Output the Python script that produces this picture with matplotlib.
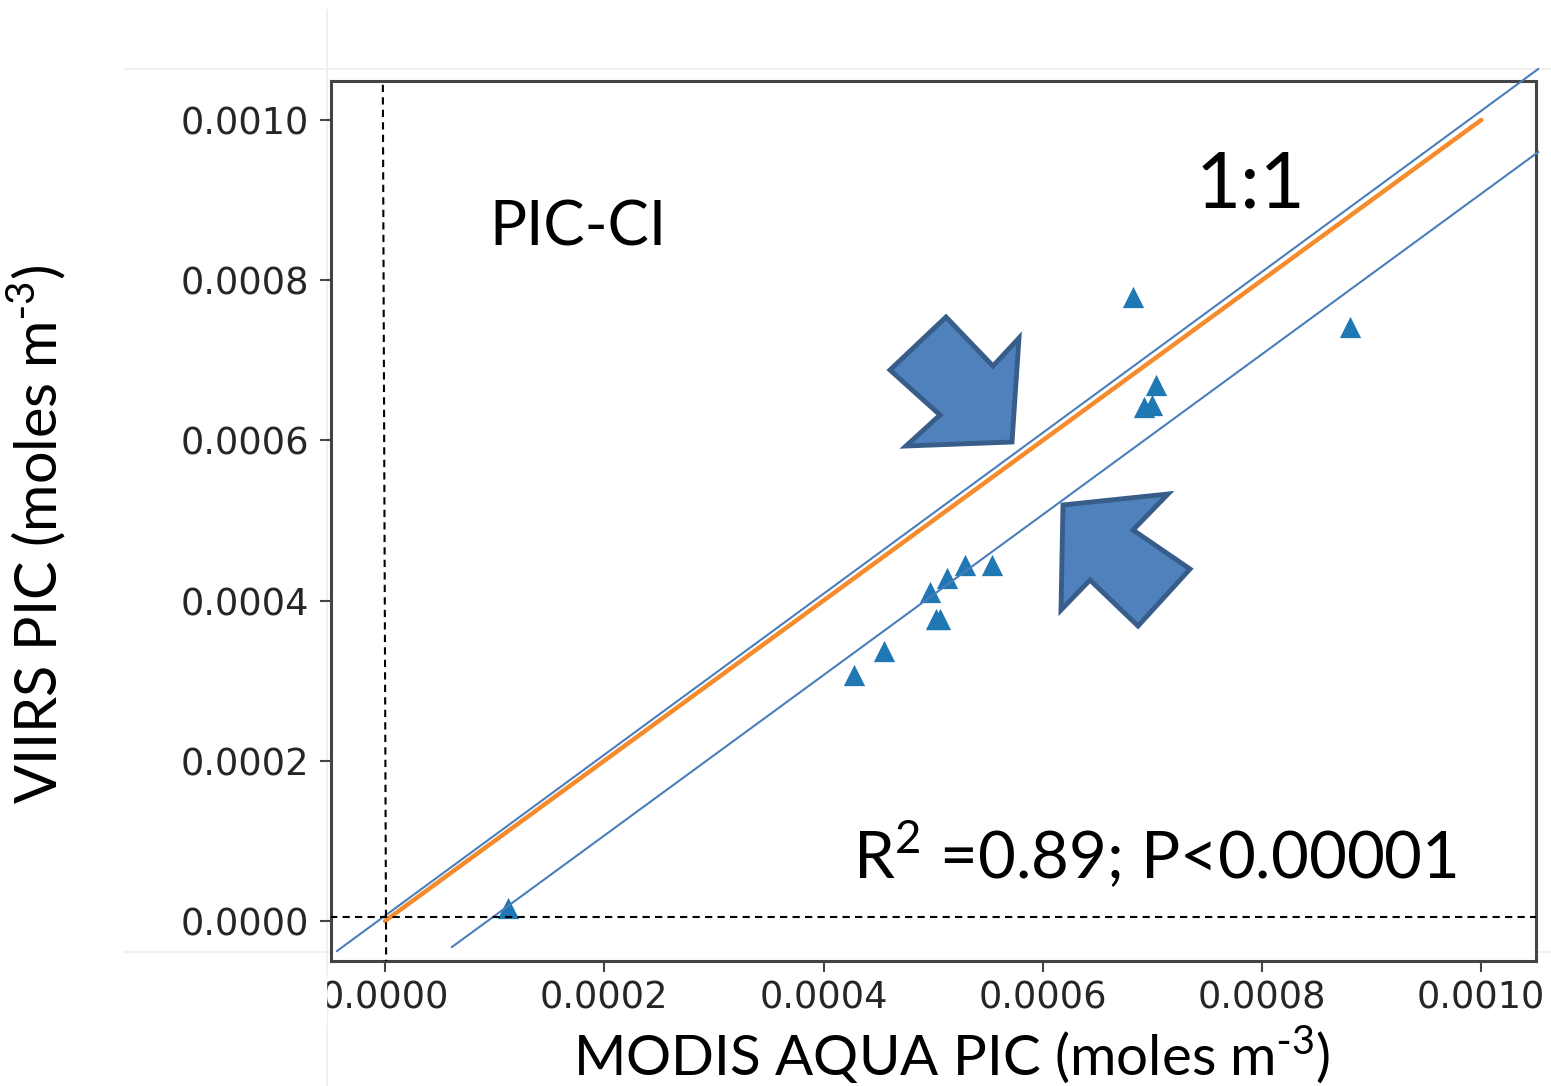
import matplotlib
matplotlib.use('Agg')
import matplotlib.pyplot as plt
from matplotlib.patches import Polygon, Rectangle

W, H = 1551, 1086

# points
modis_pic = [0.000682, 0.000880, 0.000703, 0.000692, 0.000700, 0.000554, 0.000529,
             0.000513, 0.000497, 0.000503, 0.000506, 0.000455, 0.000428, 0.000112]
viirs_pic = [0.000779, 0.000742, 0.000669, 0.000642, 0.000644, 0.000444, 0.000444,
             0.000428, 0.000411, 0.000377, 0.000377, 0.000337, 0.000307, 0.000016]

one_to_one = [0.0, 0.001]
upper_x = [-0.0000438, 0.001052]
upper_y = [-0.0000375, 0.0010637]
lower_x = [0.0000611, 0.001052]
lower_y = [-0.0000325, 0.000960]
dash_v_x = [-0.000002, 0.000001]
dash_v_y = [0.001044, -0.00005]
dash_h_x = [-0.00005, 0.00105]
dash_h_y = [0.000005, 0.000005]
ticks = [0.0, 0.0002, 0.0004, 0.0006, 0.0008, 0.0010]
tick_labels = ['0.0000', '0.0002', '0.0004', '0.0006', '0.0008', '0.0010']

# the two block arrows, in pixels of the picture
arrow_1 = [(946, 317), (993, 366), (1019, 338), (1012, 442), (906, 446), (940, 415), (890, 370)]
arrow_2 = [(1063, 505), (1168, 494), (1133, 530), (1190, 569), (1138, 626), (1090, 580), (1061, 610)]


def fx(x):
    return x / W


def fy(y):
    return 1 - y / H


fig = plt.figure(figsize=(W / 100, H / 100), dpi=100)
ax = fig.add_axes([fx(331), fy(961), (1536 - 331) / W, (961 - 81) / H])

ax.plot(one_to_one, one_to_one, color='#f58b2c', lw=3.2, solid_capstyle='round', zorder=2)
ax.scatter(modis_pic, viirs_pic, marker='^', s=235, color='tab:blue', linewidths=0, zorder=3)
ax.plot(upper_x, upper_y, color='#4a7ebb', lw=1.5, clip_on=False, zorder=4)
ax.plot(lower_x, lower_y, color='#4a7ebb', lw=1.5, clip_on=False, zorder=4)
ax.plot(dash_v_x, dash_v_y, color='black', lw=1.5, ls=(0, (3.5, 2.5)), zorder=5)
ax.plot(dash_h_x, dash_h_y, color='black', lw=1.5, ls=(0, (3.5, 2.5)), zorder=5)

ax.set_xlim(-0.0000493, 0.00105)
ax.set_ylim(-0.00005, 0.0010487)
ax.set_xticks(ticks)
ax.set_xticklabels(tick_labels)
ax.set_yticks(ticks)
ax.set_yticklabels(tick_labels)
ax.tick_params(labelsize=26.5, labelcolor='#262626', color='#444444', length=8, width=1.5)
ax.tick_params(axis='x', pad=5)
ax.tick_params(axis='y', pad=7.5)
for s in ax.spines.values():
    s.set_color('#444444')
    s.set_linewidth(2.2)

# faint lines left from the slide
for y in (69, 952):
    fig.add_artist(plt.Line2D([fx(125), 1], [fy(y), fy(y)], color='#eeeeee', lw=1.2, zorder=-1))
fig.add_artist(plt.Line2D([fx(327), fx(327)], [fy(10), 0], color='#eeeeee', lw=1.2, zorder=-1))

# tick labels are cut at both ends of the x axis
fig.add_artist(Rectangle((fx(200), fy(1025)), fx(126), 50 / H, transform=fig.transFigure,
                         color='white', zorder=5))
fig.add_artist(Rectangle((fx(1546), fy(1025)), fx(5), 50 / H, transform=fig.transFigure,
                         color='white', zorder=5))

for arrow in (arrow_1, arrow_2):
    pts = [(fx(x), fy(y)) for x, y in arrow]
    fig.add_artist(Polygon(pts, closed=True, transform=fig.transFigure, facecolor='#4f81bd',
                           edgecolor='#385d8a', lw=3.5, joinstyle='miter', zorder=6))

font = ['Lato', 'DejaVu Sans']
sup = r'$^{\mathregular{\text{-}3}}$'
fig.text(fx(489), fy(245), 'PIC-CI', fontsize=44.5, family=font, color='black', zorder=7)
fig.text(fx(1196), fy(208), '1:1', fontsize=56, family=font, color='black', zorder=7)
fig.text(fx(853), fy(879), r'R$^{\mathregular{2}}$ =0.89; P<0.00001', fontsize=47, family=font,
         color='black', zorder=7)
fig.text(fx(952), fy(1076), 'MODIS AQUA PIC (moles m' + sup + ')', fontsize=40.7, family=font,
         ha='center', va='baseline', color='black', zorder=7)
fig.text(fx(68), fy(535), 'VIIRS PIC (moles m' + sup + ')', fontsize=41.5, family=font, rotation=90,
         ha='right', va='center', color='black', zorder=7)

fig.savefig('out.png', dpi=100, facecolor='white')
